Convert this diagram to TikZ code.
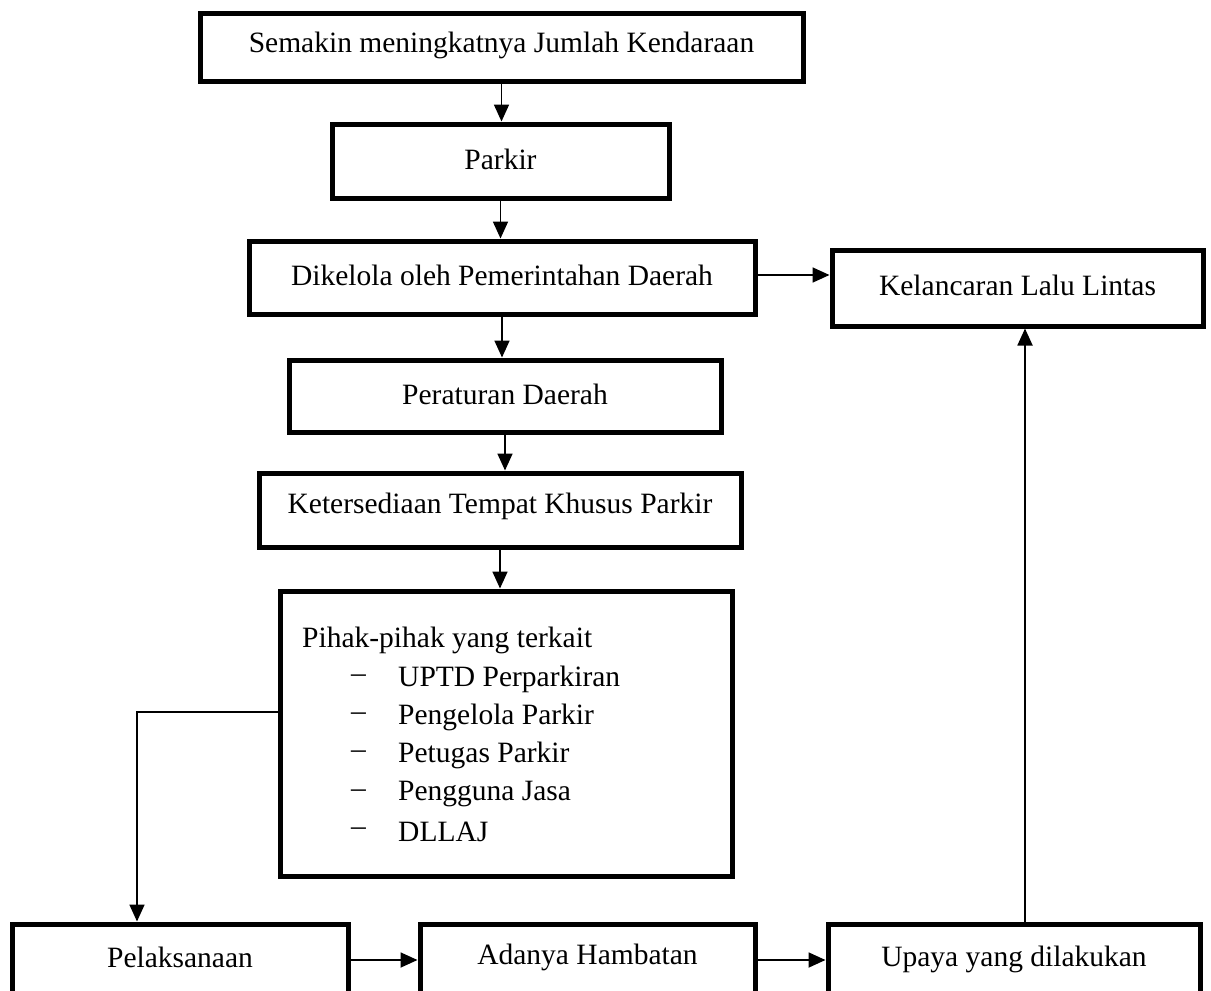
\documentclass[tikz,border=0pt]{standalone}
\usepackage{fontspec}
\setmainfont{Liberation Serif}
\usetikzlibrary{arrows.meta,calc}
\begin{document}
\begin{tikzpicture}[x=1pt,y=-1pt,
  box/.style={draw,line width=5pt,rectangle,inner sep=0pt},
  lbl/.style={inner sep=0pt,font=\fontsize{29.5}{35}\selectfont},
  txt/.style={lbl,anchor=west},
  arr/.style={line width=1.8pt,-{Triangle[length=17pt,width=15pt]}}]
\useasboundingbox (0,0) rectangle (1211,991);
\node[box,minimum width=603pt,minimum height=68pt] (b1) at (501.5,47) {};
\node[lbl] (b1t) at (501.5,45) {Semakin meningkatnya Jumlah Kendaraan};
\node[box,minimum width=337pt,minimum height=74pt] (b2) at (500.5,161) {};
\node[lbl] (b2t) at (500.5,159) {Parkir};
\node[box,minimum width=506pt,minimum height=73pt] (b3) at (502,277.5) {};
\node[lbl] (b3t) at (502,275) {Dikelola oleh Pemerintahan Daerah};
\node[box,minimum width=371pt,minimum height=76pt] (kel) at (1017.5,288) {};
\node[lbl] (kelt) at (1017.5,285) {Kelancaran Lalu Lintas};
\node[box,minimum width=432pt,minimum height=72pt] (b4) at (505,396) {};
\node[lbl] (b4t) at (505,394) {Peraturan Daerah};
\node[box,minimum width=482pt,minimum height=74pt] (b5) at (500,510) {};
\node[lbl] (b5t) at (500,506) {Ketersediaan Tempat Khusus Parkir};
\node[box,minimum width=452pt,minimum height=285pt] (pihak) at (506,733.5) {};
\node[txt] (t0) at (302,640) {Pihak-pihak yang terkait};
\node[txt] (d1) at (351,679) {–};
\node[txt] (t1) at (398,679) {UPTD Perparkiran};
\node[txt] (d2) at (351,717) {–};
\node[txt] (t2) at (398,717) {Pengelola Parkir};
\node[txt] (d3) at (351,755) {–};
\node[txt] (t3) at (398,755) {Petugas Parkir};
\node[txt] (d4) at (351,794) {–};
\node[txt] (t4) at (398,794) {Pengguna Jasa};
\node[txt] (d5) at (351,832) {–};
\node[txt] (t5) at (398,832) {DLLAJ};
\node[box,minimum width=336pt,minimum height=80pt] (pel) at (180,964) {};
\node[lbl] (pelt) at (180,957) {Pelaksanaan};
\node[box,minimum width=335pt,minimum height=80pt] (ham) at (587.5,964) {};
\node[lbl] (hamt) at (587.5,957) {Adanya Hambatan};
\node[box,minimum width=372pt,minimum height=80pt] (upa) at (1014,964) {};
\node[lbl] (upat) at (1014,959) {Upaya yang dilakukan};
\coordinate (turn) at (137,712);
\coordinate (up) at (1025,924);
\draw[arr] (b1.south) -- (b1.south |- b2.north);
\draw[arr] (b2.south) -- (b2.south |- b3.north);
\draw[arr] (b3.south) -- (b3.south |- b4.north);
\draw[arr] (b4.south) -- (b4.south |- b5.north);
\draw[arr] (b5.south) -- (b5.south |- pihak.north);
\draw[arr] (b3.east |- 0,275) -- (kel.west |- 0,275);
\draw[arr] (pihak.west |- turn) -- (turn) -- (turn |- pel.north);
\draw[arr] (pel.east |- 0,960) -- (ham.west |- 0,960);
\draw[arr] (ham.east |- 0,960) -- (upa.west |- 0,960);
\draw[arr] (up |- upa.north) -- (up |- kel.south);
\end{tikzpicture}
\end{document}
